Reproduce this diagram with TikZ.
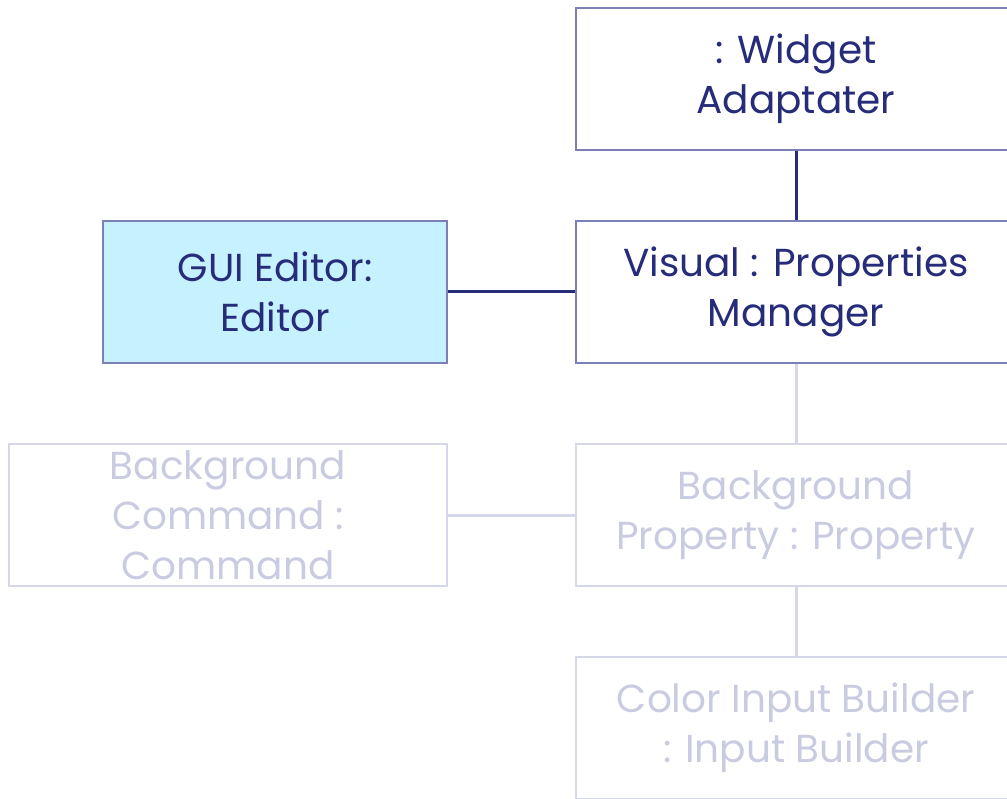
\documentclass[tikz,border=0pt]{standalone}
\usepackage{fontspec}
\setmainfont{Poppins}
\definecolor{ink}{HTML}{262C7A}
\definecolor{frame}{HTML}{7C80B4}
\definecolor{paleink}{HTML}{C9CBE1}
\definecolor{paleframe}{HTML}{D6D8EA}
\definecolor{editorfill}{HTML}{C5F2FE}
\tikzset{
  obj/.style={draw=frame, line width=2pt, text=ink, align=center,
    inner sep=0pt, font=\fontsize{39pt}{50pt}\selectfont},
  faded/.style={obj, draw=paleframe, text=paleink},
  link/.style={draw=ink, line width=3pt},
  palelink/.style={draw=paleframe, line width=3pt},
}
\begin{document}
\begin{tikzpicture}[x=1pt,y=-1pt]
\useasboundingbox (0,0) rectangle (1007,799);
\clip (0,0) rectangle (1007,799);
\node[obj, minimum width=440pt, minimum height=142pt] (widget) at (796,79) {: Widget\\Adaptater};
\node[obj, minimum width=440pt, minimum height=142pt] (visual) at (796,292) {Visual : Properties\\Manager};
\node[obj, fill=editorfill, minimum width=344pt, minimum height=142pt] (editor) at (275,292) {GUI Editor:\\Editor};
\node[faded, minimum width=438pt, minimum height=142pt] (command) at (228,515) {Background\\Command :\\Command};
\node[faded, minimum width=440pt, minimum height=142pt] (property) at (796,515) {Background\\Property : Property};
\node[faded, minimum width=440pt, minimum height=142pt] (builder) at (796,728) {Color Input Builder\\: Input Builder};
\draw[link] (widget.south) -- (visual.north);
\draw[link] (editor.east) -- (visual.west);
\draw[palelink] (visual.south) -- (property.north);
\draw[palelink] (command.east) -- (property.west);
\draw[palelink] (property.south) -- (builder.north);
\end{tikzpicture}
\end{document}
